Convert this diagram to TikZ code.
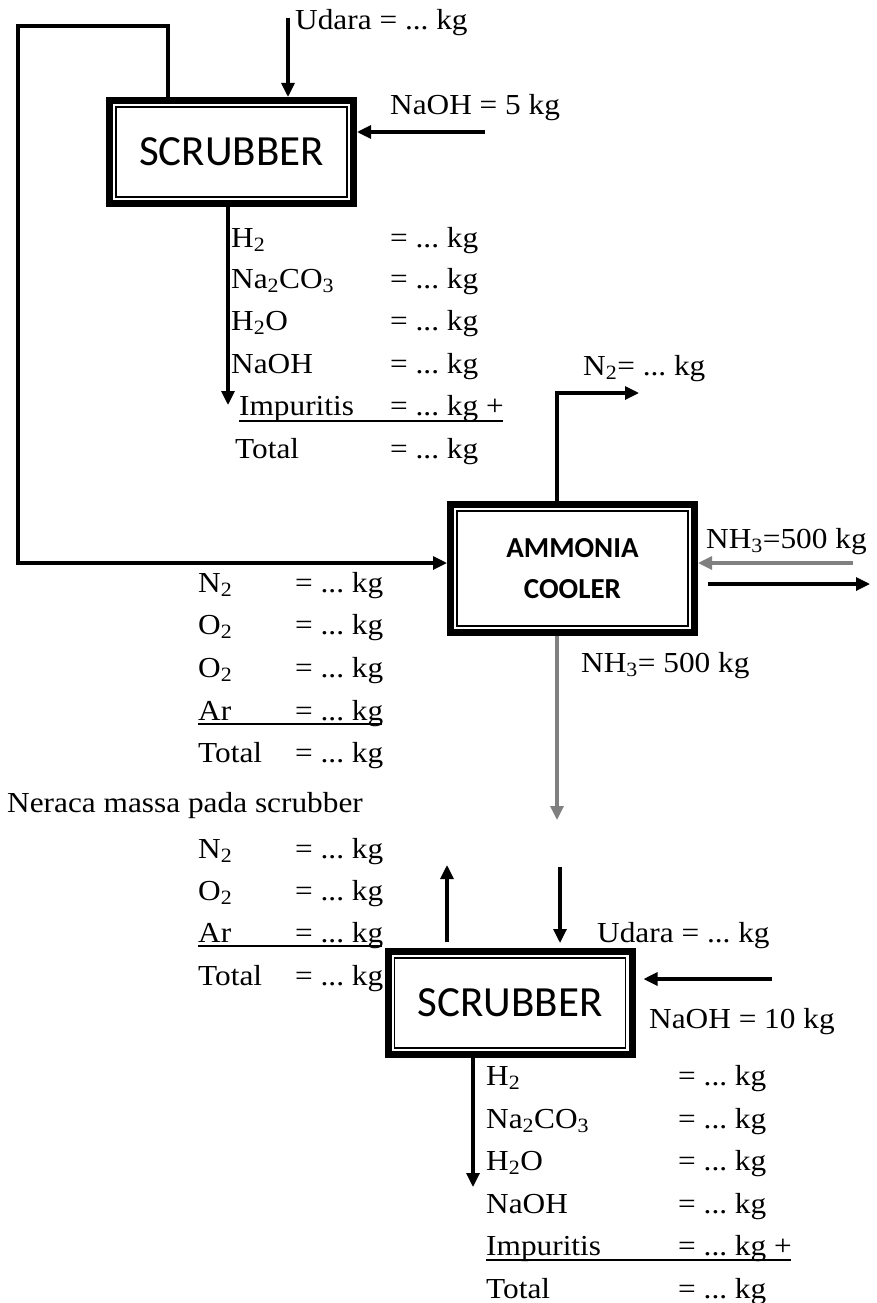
\documentclass[tikz,border=0pt]{standalone}
\usepackage{fontspec}
\setmainfont[FakeStretch=1.08]{Liberation Serif}
\newfontfamily\carl{Carlito}
\usetikzlibrary{arrows.meta}
\definecolor{flowgray}{RGB}{128,128,128}
\frenchspacing
\begin{document}
\begin{tikzpicture}[x=1pt,y=-1pt,
  flow/.style={line width=3.2pt,-{Triangle[length=14pt,width=13pt]}},
  gflow/.style={flow,draw=flowgray},
  unitbox/.style={draw,line width=7pt,minimum width=244pt,minimum height=103pt,inner sep=0pt,
    font=\carl\fontsize{43}{50}\selectfont},
  coolbox/.style={unitbox,minimum height=128pt,align=center,
    font=\carl\bfseries\fontsize{29}{41}\selectfont},
  txt/.style={anchor=base west,inner sep=0pt,font=\fontsize{29}{36}\selectfont\frenchspacing},
  uline/.style={line width=1.3pt},
  inner/.style={line width=1.2pt}
]
\useasboundingbox (0,0) rectangle (876,1303);

% units
\node[unitbox] (s1) at (231.5,152) {SCRUBBER};
\node[coolbox] (ac) at (572.5,568.5) {AMMONIA\\COOLER};
\node[unitbox] (s2) at (510,1003) {SCRUBBER};
\foreach \n in {s1,ac,s2}
  \draw[inner] ([xshift=10pt,yshift=-10pt]\n.north west) rectangle ([xshift=-10pt,yshift=10pt]\n.south east);

% free ends
\coordinate (r1) at (168,26);
\coordinate (r2) at (18,26);
\coordinate (u1) at (288,18);
\coordinate (n1) at (485,132);
\coordinate (o1) at (228,405);
\coordinate (n2c) at (557,393);
\coordinate (n2e) at (639,393);
\coordinate (nh) at (853,563);
\coordinate (x2) at (870,584);
\coordinate (g1) at (557,820);
\coordinate (up1) at (447,865);
\coordinate (dn1) at (560,867);
\coordinate (n3) at (772,979);
\coordinate (o2) at (473,1187);

% connectors
\draw[flow] (r1 |- s1.north) -- (r1) -- (r2) |- ([yshift=5.5pt]ac.west);
\draw[flow] (u1) -- (u1 |- s1.north);
\draw[flow] (n1) -- (n1 -| s1.east);
\draw[flow] (o1 |- s1.south) -- (o1);
\draw[flow] (n2c |- ac.north) -- (n2c) -- (n2e);
\draw[gflow] (nh) -- (nh -| ac.east);
\draw[flow] ([xshift=10pt,yshift=-15.5pt]ac.east) -- (x2);
\draw[gflow] (g1 |- ac.south) -- (g1);
\draw[flow] ([yshift=6pt]up1 |- s2.north) -- (up1);
\draw[flow] (dn1) -- ([yshift=5pt]dn1 |- s2.north);
\draw[flow] (n3) -- ([xshift=8pt]n3 -| s2.east);
\draw[flow] (o2 |- s2.south) -- (o2);

% top labels
\node[txt] (tu) at (295,30) {Udara = ... kg};
\node[txt] (tn) at (390,115) {NaOH = 5 kg};

% top list
\node[txt] (a1) at (231,247) {H\textsubscript{2}};
\node[txt] (a2) at (231,288) {Na\textsubscript{2}CO\textsubscript{3}};
\node[txt] (a3) at (231,330) {H\textsubscript{2}O};
\node[txt] (a4) at (231,373) {NaOH};
\node[txt] (a5) at (239,415) {Impuritis};
\node[txt] (a6) at (235,458) {Total};
\node[txt] (b1) at (390,247) {= ... kg};
\node[txt] (b2) at (390,288) {= ... kg};
\node[txt] (b3) at (390,330) {= ... kg};
\node[txt] (b4) at (390,373) {= ... kg};
\node[txt] (b5) at (390,415) {= ... kg +};
\node[txt] (b6) at (390,458) {= ... kg};
\draw[uline] (239,421) -- (503,421);

% cooler labels
\node[txt] (cn2) at (583,375) {N\textsubscript{2}= ... kg};
\node[txt] (cnh) at (706,548) {NH\textsubscript{3}=500 kg};
\node[txt] (cnh2) at (581,672) {NH\textsubscript{3}= 500 kg};

% left list 1
\node[txt] (c1) at (198,592) {N\textsubscript{2}};
\node[txt] (c2) at (198,634) {O\textsubscript{2}};
\node[txt] (c3) at (198,677) {O\textsubscript{2}};
\node[txt] (c4) at (198,720) {Ar};
\node[txt] (c5) at (198,762) {Total};
\node[txt] (d1) at (295,592) {= ... kg};
\node[txt] (d2) at (295,634) {= ... kg};
\node[txt] (d3) at (295,677) {= ... kg};
\node[txt] (d4) at (295,720) {= ... kg};
\node[txt] (d5) at (295,762) {= ... kg};
\draw[uline] (198,724) -- (382,724);

\node[txt] (ner) at (7,812) {Neraca massa pada scrubber};

% left list 2
\node[txt] (e1) at (198,858) {N\textsubscript{2}};
\node[txt] (e2) at (198,900) {O\textsubscript{2}};
\node[txt] (e3) at (198,942) {Ar};
\node[txt] (e4) at (198,985) {Total};
\node[txt] (f1) at (295,858) {= ... kg};
\node[txt] (f2) at (295,900) {= ... kg};
\node[txt] (f3) at (295,942) {= ... kg};
\node[txt] (f4) at (295,985) {= ... kg};
\draw[uline] (198,946) -- (382,946);

% bottom labels
\node[txt] (bu) at (597,942) {Udara = ... kg};
\node[txt] (bn) at (649,1028) {NaOH = 10 kg};

% bottom list
\node[txt] (g1t) at (486,1085) {H\textsubscript{2}};
\node[txt] (g2t) at (486,1128) {Na\textsubscript{2}CO\textsubscript{3}};
\node[txt] (g3t) at (486,1170) {H\textsubscript{2}O};
\node[txt] (g4t) at (486,1213) {NaOH};
\node[txt] (g5t) at (486,1255) {Impuritis};
\node[txt] (g6t) at (486,1298) {Total};
\node[txt] (h1) at (678,1085) {= ... kg};
\node[txt] (h2) at (678,1128) {= ... kg};
\node[txt] (h3) at (678,1170) {= ... kg};
\node[txt] (h4) at (678,1213) {= ... kg};
\node[txt] (h5) at (678,1255) {= ... kg +};
\node[txt] (h6) at (678,1298) {= ... kg};
\draw[uline] (486,1260) -- (791,1260);
\end{tikzpicture}
\end{document}
